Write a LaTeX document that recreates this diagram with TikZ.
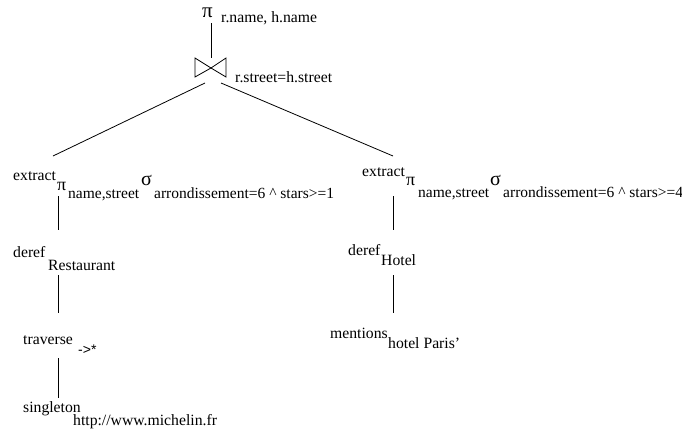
\documentclass[tikz,border=0pt]{standalone}
\usepackage{fontspec}
\setmainfont{Liberation Serif}
\newfontfamily\helv{Liberation Sans}
\begin{document}
\begin{tikzpicture}[x=1pt,y=-1pt,
    lbl/.style={anchor=base west, inner sep=0pt, font=\fontsize{15.7}{18}\selectfont},
    sub/.style={anchor=base west, inner sep=0pt, font=\fontsize{15.5}{18}\selectfont},
    op/.style={anchor=base west, inner sep=0pt, font=\fontsize{18}{20}\selectfont},
    edge/.style={line width=0.8pt}]

    \useasboundingbox (0,0) rectangle (682,431);

    % -------------------------------
    % join at the top
    % -------------------------------
    \node[op, font=\fontsize{21}{24}\selectfont] (proj) at (202,17) {π};
    \node[lbl] (projarg) at (221,23) {r.name, h.name};
    \coordinate (projbot) at (211,23);
    \coordinate (join) at (211,68);
    \coordinate (jointop) at (211,58);
    \draw[edge] (195,58) -- (195,77) -- (join) -- cycle;
    \draw[edge] (226,58) -- (226,77) -- (join) -- cycle;
    \node[lbl] (joinarg) at (235,82) {r.street=h.street};
    \draw[edge] (projbot) -- (jointop);

    \coordinate (joinl) at (205,83);
    \coordinate (joinr) at (221,83);
    \coordinate (ltop) at (53,156);
    \coordinate (rtop) at (393,156);
    \draw[edge] (joinl) -- (ltop);
    \draw[edge] (joinr) -- (rtop);

    % -------------------------------
    % left branch: Restaurant
    % -------------------------------
    \node[lbl] (lext) at (13,180) {extract};
    \node[op] (lpi) at (57,190) {π};
    \node[sub] (lpiarg) at (68,198) {name,street};
    \node[op, font=\fontsize{20}{22}\selectfont] (lsig) at (141,185) {σ};
    \node[sub] (lsigarg) at (154,198) {arrondissement=6 \textasciicircum{} stars>=1};

    \node[lbl] (lderef) at (13,257) {deref};
    \node[lbl] (lclass) at (48,270) {Restaurant};

    \node[lbl] (ltrav) at (23,344) {traverse};
    \node[lbl, font=\helv\fontsize{14}{16}\selectfont] (lpath) at (78,354) {->*};

    \node[lbl] (lsingle) at (23,412) {singleton};
    \node[lbl] (lurl) at (73,425) {http://www.michelin.fr};

    \foreach \a/\b in {196/230, 275/313, 358/398} {
        \draw[edge] (58,\a) -- (58,\b);
    }

    % -------------------------------
    % right branch: Hotel
    % -------------------------------
    \node[lbl] (rext) at (362,176) {extract};
    \node[op] (rpi) at (406,185) {π};
    \node[sub] (rpiarg) at (418,197) {name,street};
    \node[op, font=\fontsize{20}{22}\selectfont] (rsig) at (490,185) {σ};
    \node[sub] (rsigarg) at (503,197) {arrondissement=6 \textasciicircum{} stars>=4};

    \node[lbl] (rderef) at (348,255) {deref};
    \node[lbl] (rclass) at (381,265) {Hotel};

    \node[lbl] (rment) at (330,338) {mentions};
    \node[lbl] (rkey) at (388,348) {hotel Paris'};

    \foreach \a/\b in {196/230, 275/313} {
        \draw[edge] (393,\a) -- (393,\b);
    }

\end{tikzpicture}
\end{document}
